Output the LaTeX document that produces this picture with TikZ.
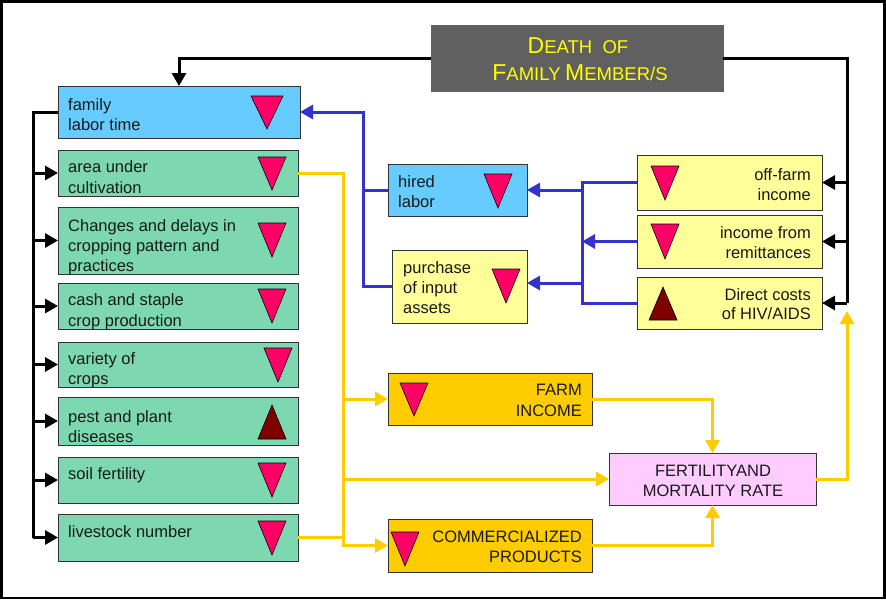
\documentclass[tikz,border=0pt]{standalone}
\usepackage{fontspec}
\setmainfont{Liberation Sans}
\usetikzlibrary{arrows.meta}
\definecolor{lblue}{HTML}{66CCFF}
\definecolor{lgreen}{HTML}{7DD8B1}
\definecolor{lyellow}{HTML}{FFFF99}
\definecolor{gold}{HTML}{FFCC00}
\definecolor{lpink}{HTML}{FFCCFF}
\definecolor{dgray}{HTML}{606060}
\definecolor{tripink}{HTML}{FF0066}
\definecolor{maroon}{HTML}{7F0000}
\definecolor{lineblue}{HTML}{3333CC}
\definecolor{txtyellow}{HTML}{FFFF00}
\definecolor{boxedge}{HTML}{333333}
\newcommand{\bigc}[1]{{\fontsize{23}{28}\selectfont #1}}
\newcommand{\smc}[1]{{\fontsize{18.5}{28}\selectfont #1}}
\newcommand{\tridown}[3]{\fill[tripink,draw=black,line width=0.6pt] (#1-14,#2) -- (#1+14,#2) -- (#1,#3) -- cycle;}
\newcommand{\triup}[3]{\fill[maroon,draw=black,line width=0.6pt] (#1-14,#3) -- (#1+14,#3) -- (#1,#2) -- cycle;}
\tikzset{
  box/.style={draw=boxedge,line width=0.8pt,anchor=north west,inner sep=0pt,outer sep=0pt},
  txt/.style={font=\fontsize{16.5}{20.5}\selectfont,inner sep=0pt,text=black!90},
  blk/.style={draw=black,line width=3pt},
  blu/.style={draw=lineblue,line width=3pt},
  yel/.style={draw=gold,line width=3pt},
  tipk/.style={-{Triangle[length=13pt,width=14pt]}},
}
\begin{document}
\begin{tikzpicture}[x=1pt,y=-1pt]
\useasboundingbox (0,0) rectangle (886,600);
\fill[white] (0,0) rectangle (886,600);
\draw[line width=2.5pt] (1.5,1.5) rectangle (884.5,598);

% boxes
\node[box,fill=dgray,draw=dgray,minimum width=292pt,minimum height=66pt] (death) at (431,25) {};
\node[box,fill=lblue,minimum width=242pt,minimum height=52pt] (fam) at (58,86) {};
\node[box,fill=lgreen,minimum width=240pt,minimum height=46pt] (area) at (58,150) {};
\node[box,fill=lgreen,minimum width=240pt,minimum height=67pt] (chg) at (58,207) {};
\node[box,fill=lgreen,minimum width=240pt,minimum height=46pt] (cash) at (58,283) {};
\node[box,fill=lgreen,minimum width=240pt,minimum height=45pt] (var) at (58,342) {};
\node[box,fill=lgreen,minimum width=240pt,minimum height=48pt] (pest) at (58,397) {};
\node[box,fill=lgreen,minimum width=240pt,minimum height=46pt] (soil) at (58,457) {};
\node[box,fill=lgreen,minimum width=240pt,minimum height=47pt] (live) at (58,514) {};
\node[box,fill=lblue,minimum width=139pt,minimum height=52pt] (hired) at (388,164) {};
\node[box,fill=lyellow,minimum width=135pt,minimum height=73pt] (purch) at (392,250) {};
\node[box,fill=lyellow,minimum width=185pt,minimum height=55pt] (off) at (637,155) {};
\node[box,fill=lyellow,minimum width=185pt,minimum height=53pt] (rem) at (637,215) {};
\node[box,fill=lyellow,minimum width=185pt,minimum height=52pt] (dir) at (637,277) {};
\node[box,fill=gold,minimum width=204pt,minimum height=52pt] (farm) at (388,373) {};
\node[box,fill=gold,minimum width=204pt,minimum height=53pt] (comm) at (388,519) {};
\node[box,fill=lpink,minimum width=207pt,minimum height=52pt] (fert) at (609,453) {};

% texts
\node[txt,anchor=base,text=txtyellow] (tdeath1) at (578,53) {\bigc{D}\smc{EATH\ \ OF}};
\node[txt,anchor=base,text=txtyellow] (tdeath2) at (580,80) {\bigc{F}\smc{AMILY} \bigc{M}\smc{EMBER/S}};
\node[txt,anchor=base west] (tfam1) at (68,110) {family};
\node[txt,anchor=base west] (tfam2) at (68,130) {labor time};
\node[txt,anchor=base west] (tarea1) at (68,172) {area under};
\node[txt,anchor=base west] (tarea2) at (68,193) {cultivation};
\node[txt,anchor=base west] (tchg1) at (68,231) {Changes and delays in};
\node[txt,anchor=base west] (tchg2) at (68,251) {cropping pattern and};
\node[txt,anchor=base west] (tchg3) at (68,271) {practices};
\node[txt,anchor=base west] (tcash1) at (68,305) {cash and staple};
\node[txt,anchor=base west] (tcash2) at (68,326) {crop production};
\node[txt,anchor=base west] (tvar1) at (68,364) {variety of};
\node[txt,anchor=base west] (tvar2) at (68,384) {crops};
\node[txt,anchor=base west] (tpest1) at (68,422) {pest and plant};
\node[txt,anchor=base west] (tpest2) at (68,442) {diseases};
\node[txt,anchor=base west] (tsoil) at (68,479) {soil fertility};
\node[txt,anchor=base west] (tlive) at (68,537) {livestock number};
\node[txt,anchor=base west] (thired1) at (398,187) {hired};
\node[txt,anchor=base west] (thired2) at (398,207) {labor};
\node[txt,anchor=base west] (tpur1) at (403,273) {purchase};
\node[txt,anchor=base west] (tpur2) at (403,293) {of input};
\node[txt,anchor=base west] (tpur3) at (403,313) {assets};
\node[txt,anchor=base east] (toff1) at (811,180) {off-farm};
\node[txt,anchor=base east] (toff2) at (811,200) {income};
\node[txt,anchor=base east] (trem1) at (811,238) {income from};
\node[txt,anchor=base east] (trem2) at (811,258) {remittances};
\node[txt,anchor=base east] (tdir1) at (811,300) {Direct costs};
\node[txt,anchor=base east] (tdir2) at (811,319) {of HIV/AIDS};
\node[txt,anchor=base east] (tfarm1) at (582,395) {FARM};
\node[txt,anchor=base east] (tfarm2) at (582,416) {INCOME};
\node[txt,anchor=base east] (tcomm1) at (582,542) {COMMERCIALIZED};
\node[txt,anchor=base east] (tcomm2) at (582,562) {PRODUCTS};
\node[txt,anchor=base] (tfert1) at (713,476) {FERTILITYAND};
\node[txt,anchor=base] (tfert2) at (713,496) {MORTALITY RATE};

% triangles
\fill[tripink,draw=black,line width=0.6pt] (251,96) -- (283,96) -- (267,129) -- cycle;
\tridown{272}{157}{190}
\tridown{272}{223}{257}
\tridown{272}{289}{323}
\tridown{278}{348}{382}
\triup{272}{405}{439}
\tridown{272}{463}{497}
\tridown{272}{521}{555}
\tridown{498}{174}{208}
\tridown{506}{269}{303}
\tridown{665}{166}{200}
\tridown{665}{224}{259}
\triup{663}{287}{320}
\tridown{414}{383}{416}
\tridown{405}{532}{566}

% coordinates for buses
\coordinate (lbus) at (33,0);
\coordinate (rbus) at (847,0);
\coordinate (bbus) at (363,0);
\coordinate (cbus) at (582,0);
\coordinate (ybus) at (343,0);
\coordinate (ytip) at (847,311);

% black connectors
\draw[blk,tipk] (death.west) -| (fam.north);
\draw[blk] (death.east) -| (rbus |- dir.east);
\draw[blk,tipk] (rbus |- off.east) -- (off.east);
\draw[blk,tipk] (rbus |- rem.east) -- (rem.east);
\draw[blk,tipk] (rbus |- dir.east) -- (dir.east);
\draw[blk] (fam.west) -| (lbus |- live.west);
\foreach \n in {area,chg,cash,var,pest,soil,live}
  \draw[blk,tipk] (lbus |- \n.west) -- (\n.west);

% blue connectors
\draw[blu,tipk] (purch.west) -| (bbus |- fam.east) -- (fam.east);
\draw[blu] (hired.west) -- (bbus |- hired.west);
\draw[blu] ([yshift=0.5pt]off.west) -| (cbus |- dir.west) -- (dir.west);
\draw[blu,tipk] (cbus |- hired.east) -- (hired.east);
\draw[blu,tipk] (cbus |- 0,283) -- (purch.east |- 0,283);
\draw[blu,tipk] (rem.west) -- (cbus |- rem.west);

% yellow connectors
\draw[yel,tipk] (area.east) -| (ybus |- comm.west) -- (comm.west);
\draw[yel] (live.east) -- (ybus |- live.east);
\draw[yel,tipk] (ybus |- farm.west) -- (farm.west);
\draw[yel,tipk] (ybus |- fert.west) -- (fert.west);
\draw[yel,tipk] (farm.east) -| (fert.north);
\draw[yel,tipk] (comm.east) -| (fert.south);
\draw[yel,tipk] (fert.east) -| (ytip);
\end{tikzpicture}
\end{document}
